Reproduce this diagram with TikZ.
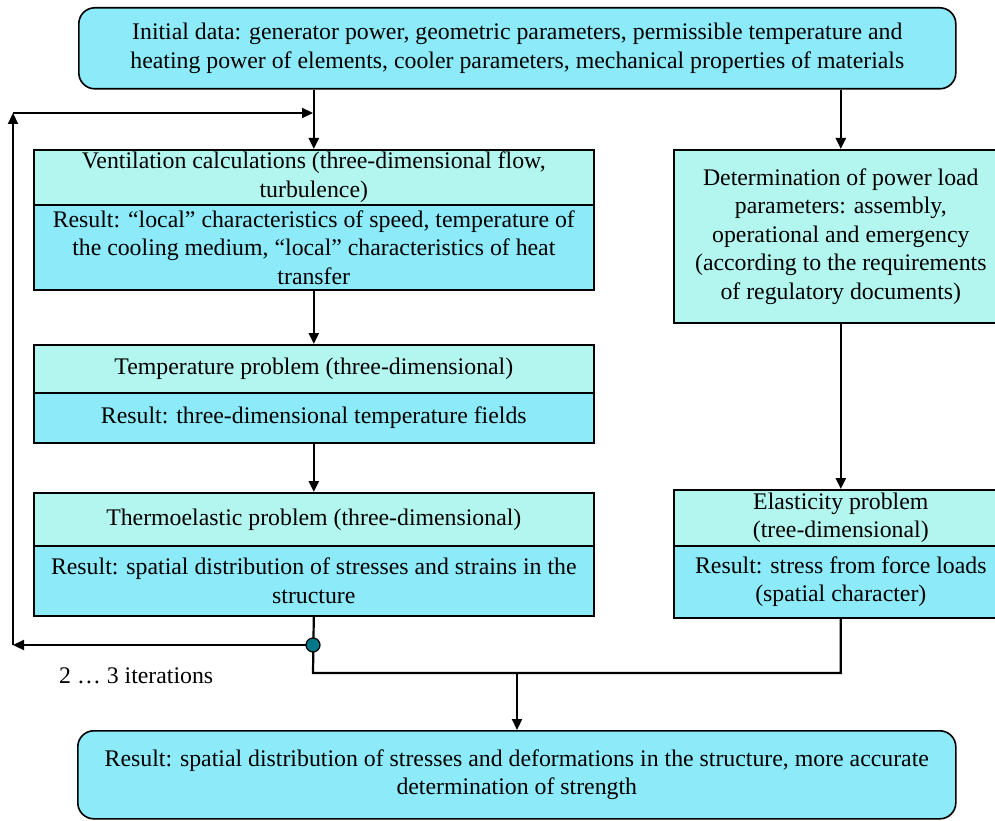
\documentclass[tikz,border=0pt]{standalone}
\usepackage{fontspec}
\setmainfont{Liberation Serif}
\usetikzlibrary{arrows.meta,calc}
\definecolor{hdrc}{HTML}{B3F5EF}
\definecolor{resc}{HTML}{8CEAF9}
\definecolor{dotc}{HTML}{00788A}
\tikzset{
  box/.style={draw=black, line width=1.6pt, align=center, inner sep=0pt, anchor=north west,
    font=\fontsize{23.8}{28.5}\selectfont},
  hdr/.style={box, fill=hdrc},
  res/.style={box, fill=resc},
  rbox/.style={box, fill=resc, rounded corners=16pt},
  conn/.style={line width=2.2pt, draw=black},
  arr/.style={conn, -{Triangle[length=11pt,width=10pt]}},
}
\begin{document}
\begin{tikzpicture}[x=1pt,y=-1pt]
\useasboundingbox (0,0) rectangle (995,821);
% top box
\node[rbox, minimum width=877pt, minimum height=81pt] (top) at (78,7)
  {Initial data: generator power, geometric parameters, permissible temperature and\\
   heating power of elements, cooler parameters, mechanical properties of materials};
% left column
\node[hdr, minimum width=560pt, minimum height=55pt] (venth) at (33,149)
  {Ventilation calculations (three-dimensional flow,\\ turbulence)};
\node[res, minimum width=560pt, minimum height=85pt] (ventr) at (33,204)
  {Result: ``local'' characteristics of speed, temperature of\\
   the cooling medium, ``local'' characteristics of heat\\ transfer};
\node[hdr, minimum width=560pt, minimum height=48pt] (temph) at (33,344)
  {Temperature problem (three-dimensional)};
\node[res, minimum width=560pt, minimum height=50pt] (tempr) at (33,392)
  {Result: three-dimensional temperature fields};
\node[hdr, minimum width=560pt, minimum height=53pt] (thermh) at (33,492)
  {Thermoelastic problem (three-dimensional)};
\node[res, minimum width=560pt, minimum height=70pt] (thermr) at (33,545)
  {Result: spatial distribution of stresses and strains in the\\ structure};
% right column
\node[hdr, minimum width=334pt, minimum height=173pt] (det) at (673,149)
  {Determination of power load\\ parameters: assembly,\\ operational and emergency\\
   (according to the requirements\\ of regulatory documents)};
\node[hdr, minimum width=334pt, minimum height=56pt] (elash) at (673,489)
  {Elasticity problem\\ (tree-dimensional)};
\node[res, minimum width=334pt, minimum height=72pt] (elasr) at (673,545)
  {Result: stress from force loads\\ (spatial character)};
% bottom box
\node[rbox, minimum width=878pt, minimum height=88pt] (bot) at (77,730)
  {Result: spatial distribution of stresses and deformations in the structure, more accurate\\
   determination of strength};
% iterations label
\node[font=\fontsize{23.8}{28}\selectfont, anchor=west, inner sep=0pt] (iter) at (59,676) {2 \dots\ 3 iterations};
% coordinates
\coordinate (fork) at (313,645);
\coordinate (joinL) at (313,673);
\coordinate (joinM) at (517,673);
\coordinate (cornerB) at (13,645);
\coordinate (cornerT) at (13,113);
\coordinate (entry) at (313,113);
% connectors
\draw[arr] (top.south -| venth.north) -- (venth.north);
\draw[arr] (top.south -| det.north) -- (det.north);
\draw[arr] (det.south) -- (elash.north);
\draw[arr] (ventr.south) -- (temph.north);
\draw[arr] (tempr.south) -- (thermh.north);
\draw[conn] (thermr.south) -- (joinL) -- (joinL -| elasr.south) -- (elasr.south);
\draw[arr] (joinM) -- (joinM |- bot.north);
\draw[arr] (fork) -- (cornerB);
\draw[arr] (cornerB) -- (cornerT);
\draw[arr] (cornerT) -- (entry);
\fill[dotc, draw=black, line width=1.2pt] (fork) circle (7pt);
\end{tikzpicture}
\end{document}
